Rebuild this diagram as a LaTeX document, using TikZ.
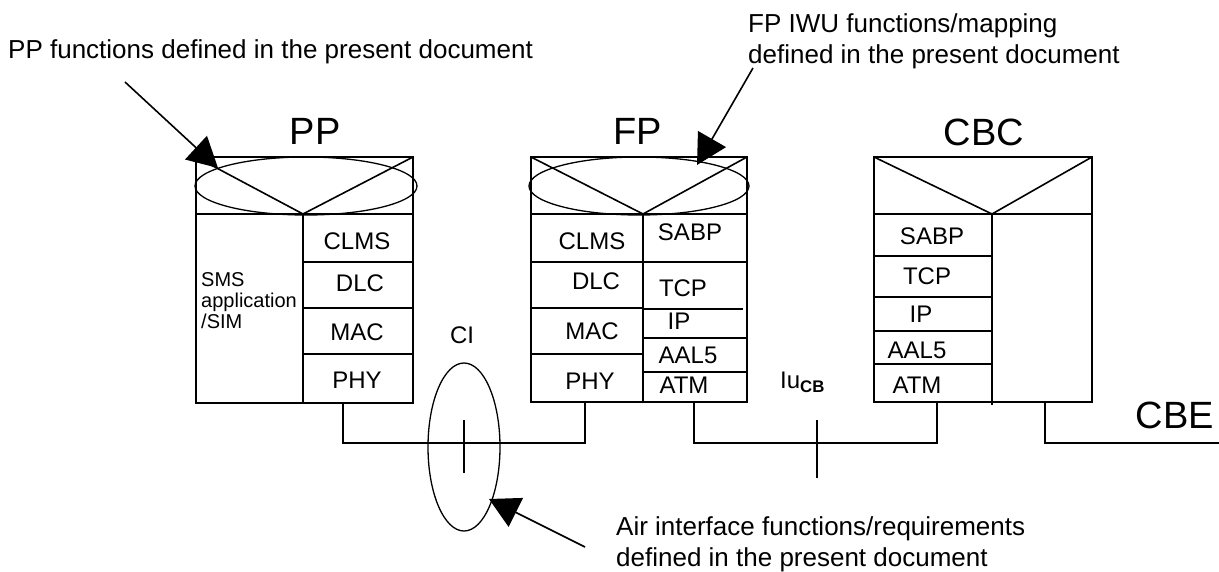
\documentclass[tikz,border=0pt]{standalone}
\usepackage{fontspec}
\setmainfont{Liberation Sans}
\usetikzlibrary{arrows.meta}

\begin{document}
\begin{tikzpicture}[x=1pt,y=-1pt,
    kasten/.style={line width=1.6pt},
    linie/.style={line width=1.3pt},
    pfeil/.style={line width=1.6pt,-{Triangle[length=30pt,width=32pt]}},
    schicht/.style={font=\fontsize{24}{28}\selectfont,inner sep=0pt},
    titel/.style={font=\fontsize{38}{44}\selectfont,inner sep=0pt},
    notiz/.style={font=\fontsize{26}{31}\selectfont,inner sep=0pt,align=left}]

    \useasboundingbox (0,0) rectangle (1219,572);

    % Kasten PP
    \coordinate (PPa) at (196,157);
    \coordinate (PPb) at (413,403);
    \draw[kasten] (PPa) rectangle (PPb);
    \draw[kasten] (196,214) -- (413,214);
    \draw[kasten] (PPa) -- (303,214) -- (413,157);
    \draw[kasten] (303,214) -- (303,403);
    \draw[kasten] (303,262) -- (413,262) (303,308) -- (413,308)
        (303,354) -- (413,354);
    \draw[linie] (306,186) ellipse (111pt and 29pt);
    \node[titel] (PP) at (315,131) {PP};
    \node[schicht] (PPclms) at (357,241) {CLMS};
    \node[schicht] (PPdlc) at (360,283) {DLC};
    \node[schicht] (PPmac) at (357,332) {MAC};
    \node[schicht] (PPphy) at (357,380) {PHY};
    \node[anchor=west,align=left,inner sep=0pt,font=\fontsize{20}{21}\selectfont]
        (PPsms) at (201,301) {SMS\\application\\/SIM};

    % Kasten FP
    \coordinate (FPa) at (531,157);
    \coordinate (FPb) at (747,402);
    \draw[kasten] (FPa) rectangle (FPb);
    \draw[kasten] (531,214) -- (747,214);
    \draw[kasten] (FPa) -- (643,214) -- (747,157);
    \draw[kasten] (643,214) -- (643,402);
    \draw[kasten] (531,262) -- (747,262) (531,308) -- (643,308)
        (531,354) -- (643,354);
    \draw[kasten] (643,309) -- (743,309) (643,338) -- (747,338)
        (643,372) -- (747,372);
    \draw[linie] (639,186) ellipse (110pt and 29pt);
    \node[titel] (FP) at (638,131) {FP};
    \node[schicht] (FPclms) at (592,241) {CLMS};
    \node[schicht] (FPdlc) at (596,281) {DLC};
    \node[schicht] (FPmac) at (592,331) {MAC};
    \node[schicht] (FPphy) at (590,381) {PHY};
    \node[schicht] (FPsabp) at (690,232) {SABP};
    \node[schicht] (FPtcp) at (683,288) {TCP};
    \node[schicht] (FPip) at (679,321) {IP};
    \node[schicht] (FPaal) at (688,355) {AAL5};
    \node[schicht] (FPatm) at (684,385) {ATM};

    % Kasten CBC
    \coordinate (CBCa) at (874,157);
    \coordinate (CBCb) at (1092,402);
    \draw[kasten] (CBCa) rectangle (CBCb);
    \draw[kasten] (874,214) -- (1092,214);
    \draw[kasten] (CBCa) -- (992,214) -- (1092,157);
    \draw[kasten] (992,214) -- (992,405);
    \draw[kasten] (874,256) -- (992,256) (874,297) -- (992,297)
        (874,331) -- (992,331) (874,364) -- (992,364);
    \node[titel] (CBC) at (984,132) {CBC};
    \node[schicht] (CBCsabp) at (932,236) {SABP};
    \node[schicht] (CBCtcp) at (927,276) {TCP};
    \node[schicht] (CBCip) at (921,314) {IP};
    \node[schicht] (CBCaal) at (917,350) {AAL5};
    \node[schicht] (CBCatm) at (917,385) {ATM};

    % Verbindungen
    \coordinate (PPf) at (343,403);
    \coordinate (FPf) at (585,402);
    \coordinate (FPg) at (694,402);
    \coordinate (CBCf) at (937,402);
    \coordinate (CBCg) at (1045,402);
    \coordinate (CBEende) at (1219,443);
    \draw[linie] (PPf) -- ++(0,40) -| (FPf);
    \draw[linie] (FPg) -- ++(0,41) -| (CBCf);
    \draw[linie] (CBCg) |- (CBEende);
    \node[titel] (CBE) at (1175,415) {CBE};

    % Schnittstelle CI
    \coordinate (CI) at (464,447);
    \draw[linie] (CI) ellipse (36pt and 84pt);
    \draw[linie] (464,420) -- (464,473);
    \node[schicht] (CIt) at (462,335) {CI};

    % Schnittstelle Iu
    \draw[linie] (817,420) -- (817,478);
    \node[schicht,anchor=west] (Iu) at (780,382) {Iu\textsubscript{\textbf{CB}}};

    % Hinweise mit Pfeilen
    \node[notiz,anchor=west] (PPtext) at (8,52)
        {PP functions defined in the present document};
    \coordinate (PPs) at (125,82);
    \coordinate (PPe) at (218,168);
    \draw[pfeil] (PPs) -- (PPe);

    \node[notiz,anchor=west] (FPtext) at (748,41)
        {FP IWU functions/mapping\\defined in the present document};
    \coordinate (FPs) at (753,68);
    \coordinate (FPe) at (697,165);
    \draw[pfeil] (FPs) -- (FPe);

    \node[notiz,anchor=west] (CItext) at (616,544)
        {Air interface functions/requirements\\defined in the present document};
    \coordinate (CIs) at (585,547);
    \coordinate (CIe) at (489,499);
    \draw[pfeil] (CIs) -- (CIe);
\end{tikzpicture}
\end{document}
